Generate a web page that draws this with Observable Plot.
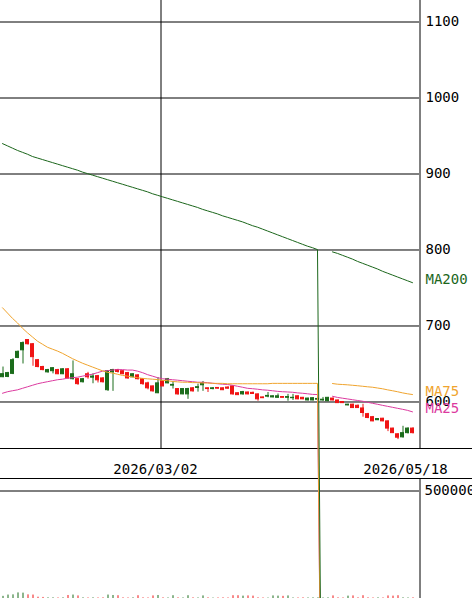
<!DOCTYPE html>
<html><head><meta charset="utf-8">
<script src="https://cdn.jsdelivr.net/npm/d3@7"></script>
<script src="https://cdn.jsdelivr.net/npm/@observablehq/plot@0.6"></script>
<style>
html,body{margin:0;padding:0;overflow:hidden;background:#fff;}
#chart{position:relative;width:472px;height:598px;overflow:hidden;background:#fff;}
#band{position:absolute;left:0;top:448px;width:472px;height:31px;box-sizing:border-box;border-top:1px solid #000;border-bottom:1px solid #000;}
#vol{position:absolute;left:0;top:448px;z-index:1;}
#price{position:absolute;left:0;top:0;z-index:2;}
</style></head><body>
<div id="chart"><div id="band"></div><div id="vol"></div><div id="price"></div></div>
<script>
const opens  = [632.6,633,637,658,668,681.5,676,655,646,639, 640.5,642,636.5,643,630,630,626,636.5,632,634, 631,615.5,639,642,640.5,638,632.5,635,630,624.5, 620.5,611.5,627,624.5,621.5,617,610,610,618,618.5, 622,618,617,618.5,618,619,620.5,611.5,610,612.5, 612,610,606,607,606,605.5,606.5,605.5,605,607.5, 605.5,602,602,603,602,601,604.5,602,600,595.5, 596.5,595,591.5,584,580,576,578,574.5,565,557.5, 553.5,559,565];
const highs  = [646,639,657,667,679,682,677,656,647,643, 645,643,644,644,654,631,631,639,637,635, 632,641,643,643,641,639,637,636,631,626, 621,632,628,631,627,617.5,617.5,618,619,623.5, 627,618.5,619,619,618.5,620,621,612,614,613, 613,610.5,606.5,612.5,608,610.5,607,610,610,608, 606,605,605.5,605,606,606,605,602.5,600.5,597, 597,596,597,585,581,578,578.5,575,565.5,558, 568,566,566];
const lows   = [632,632,636,657,650,675,647,645,641,638, 637,636,636,630,629,622,625,630,624,625, 625,614,614,638,636,630,632,629,622,616, 613,611,620,624,617,609,609.5,603.5,613,613, 614,612.5,616,617,615,617,609,608.5,609,609.5, 610,601,604.5,605.5,605.5,605,605.5,601,602,603, 603,601.5,601.5,602,601,600.5,601.5,598,598,595, 591.5,591.5,580,578,574,575.5,574,561,558.5,550.5, 552.5,558,558];
const closes = [636.6,638,655,666,677.5,676,659,646,642,642, 644.5,636.5,643,631,636.5,623.5,630,632.5,633.5,628.5, 626,640.5,642,639.5,636.5,631,636.5,630,623.5,618, 614,624.5,620.5,630,622.5,610,617,617,614,619.5, 624.5,617,618,617.5,615.5,617.5,610,609,613,610, 610.5,603.5,605,608,607.5,607.5,605.5,606.5,605.5,603.5, 603.5,604.5,605,604,603,605.5,602,598.5,598.5,596.5, 592,592,585.5,579,574.5,577.5,574.5,565,559,553, 559,565,559];
const volumes = [10000,16000,17000,26000,25000,17000,16000,6000,5000,3000, 3000,2500,3000,14000,16000,12000,3000,2500,3000,2500, 3000,16000,14000,13000,3000,2500,3000,13000,3000,2500, 12000,14000,3000,2500,13000,3000,2500,13000,3000,2500, 12000,3000,2000,2500,3000,2500,13000,13000,11000,12000, 11000,3000,2500,2000,12000,11000,10000,12000,2500,2500, 3000,2500,3000,3000,2500,3000,12000,3000,2500,11000, 12000,3000,13000,3000,2500,3000,2500,12000,11000,13000, 3000,2500,3000];
const ma200 = [940,937,934,931,928.5,926,923,921,919,917, 915,913,911,909,907,905,902.5,900.5,898.5,896.5, 894.5,892.5,890.5,888.5,886.5,884.5,882.5,880.5,878.5,876.5, 874,872,870,868,866,864,862,860,858,856, 853.5,851.5,849.5,847.5,845,843,841,839,837,834.5, 832,830,827.5,825,822.5,820,817.5,815,812.5,810, 807.5,805,803,800.5,0,null,797.5,795.5,793,790.5, 788,785,782.5,780,777.5,775,772,769.5,767,764.5, 762,759.5,757];
const ma75 = [724,717,710,704,697,691,685.5,680,676,672, 669.5,667,664,660.5,657,654,651,648.5,646,643.5, 641,639,638,636.5,635,634,633,632,631,630.5, 630,629.5,628.5,628,627,626.5,626,626,625.5,625.5, 625,625,624.5,624.5,624.5,624,624,624,624,624, 624,624,624,624,624.5,624.5,624.5,624.5,624.5,624.5, 624.5,624.5,624.5,624.5,0,null,624.3,623.4,623,622.6, 622,621.4,620.7,620,619.4,618.4,617.4,616,614.8,613.5, 612,610.8,609.8];
const ma25 = [611.5,613.5,614.8,616,618,620,622,624,625.4,626.7, 628,629.3,630,631.3,632,632.6,634,635.3,636.6,638.6, 640.6,641.2,642,642.6,642.6,642,642,640.6,638.6,636, 634,632,630.6,630,629.3,628.7,628,627.3,626.7,626, 626,625.4,624.7,624,623.4,623,622,620.7,619.4,618, 617.5,616.8,616,615.5,614.8,614,613.5,613.2,612.8,612, 611.5,610.8,610,609.8,0,null,607.5,606,605,604, 603,602,601,599.6,598.3,597,595.6,594.3,593,591.7, 590.4,589,587];
const priceTicks = [600,700,800,900,1000,1100];
const volumeTicks = [500000];
const dateTickIndex = [32,82];
const dateTickLabels = ["2026/03/02","2026/05/18"];
const maNames = ["MA200","MA75","MA25"];
const maSeries = [ma200, ma75, ma25];

const UP = "#1b6c1b", DOWN = "#f01414";
const maColors = ["#1b661b", "#f0a42e", "#dc3a9f"];
const FONT = {fontFamily: "'DejaVu Sans Mono', monospace", fontSize: "14px", overflow: "visible", background: "transparent"};

const n = opens.length;
const candles = opens.map((o, i) => ({i, open: o, high: highs[i], low: lows[i], close: closes[i], volume: volumes[i], color: closes[i] >= o ? UP : DOWN}));
const xDomain = [-0.4, n + 0.4];
const dateTicks = dateTickIndex.map((i, k) => ({i, label: dateTickLabels[k]}));
const maLabels = maNames.map((name, k) => ({name, value: maSeries[k][n - 1], color: maColors[k]}));
const drawOrder = [2, 1, 0];

const price = Plot.plot({
  width: 472, height: 448,
  marginLeft: 0, marginRight: 53, marginTop: 0, marginBottom: 0,
  style: FONT,
  x: {domain: xDomain, axis: null},
  y: {domain: [538.8, 1128.3], axis: null},
  marks: [
    Plot.ruleY(priceTicks, {y: d => d, stroke: "#000"}),
    Plot.ruleX(dateTickIndex.filter(i => i < n - 1), {x: d => d, stroke: "#000", dx: -1.5}),
    Plot.ruleX([xDomain[1]], {x: d => d, stroke: "#000", dx: 0.5}),
    Plot.ruleX(candles, {x: "i", y1: "low", y2: "high", stroke: "color", dx: 0.5}),
    Plot.rect(candles, {x1: d => d.i - 0.3, x2: d => d.i + 0.3, y1: "open", y2: "close", fill: "color", stroke: "color", strokeWidth: 1}),
    ...drawOrder.map(k => Plot.line(maSeries[k], {x: (d, i) => i, y: d => d, stroke: maColors[k], strokeWidth: 1})),
    Plot.text(priceTicks, {y: d => d, text: d => String(d), frameAnchor: "right", dx: 6, textAnchor: "start", fill: "#000"}),
    Plot.text(maLabels, {y: "value", text: "name", fill: "color", frameAnchor: "right", dx: 6, dy: -3, textAnchor: "start"})
  ]
});
document.getElementById("price").appendChild(price);

const vol = Plot.plot({
  width: 472, height: 150,
  marginLeft: 0, marginRight: 53, marginTop: 30, marginBottom: 0,
  style: FONT,
  x: {domain: xDomain, axis: null},
  y: {domain: [0, 558140], axis: null},
  marks: [
    Plot.ruleY(volumeTicks, {y: d => d, stroke: "#000"}),
    Plot.ruleX([xDomain[1]], {x: d => d, stroke: "#000", dx: 0.5}),
    Plot.ruleX(candles, {x: "i", y1: 0, y2: "volume", stroke: "color", dx: 0.5}),
    Plot.text(volumeTicks, {y: d => d, text: d => String(d), frameAnchor: "right", dx: 5, textAnchor: "start", fill: "#000"}),
    Plot.text(dateTicks, {x: "i", text: "label", frameAnchor: "top", dy: -14, dx: -7, fill: "#000"})
  ]
});
document.getElementById("vol").appendChild(vol);
</script>
</body></html>
